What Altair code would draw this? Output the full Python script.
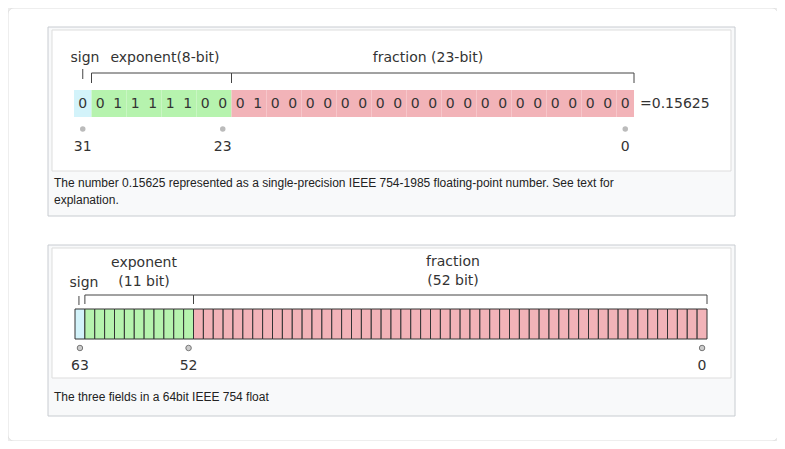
import altair as alt
import pandas as pd

# bit patterns
bits32 = "0" + "01111100" + "01000000000000000000000"
fields32 = ["sign"] + ["exponent"] * 8 + ["fraction"] * 23
marks32 = [31, 23, 0]
marks64 = [63, 52, 0]
fields64 = ["sign"] + ["exponent"] * 11 + ["fraction"] * 52
caption1a = "The number 0.15625 represented as a single-precision IEEE 754-1985 floating-point number. See text for"
caption1b = "explanation."
caption2 = "The three fields in a 64bit IEEE 754 float"

O = 8  # page margin offset
def p(v):
    return v - O

FONT = "DejaVu Sans"
CAP = "Liberation Sans"

top = pd.DataFrame({"bit": list(range(31, -1, -1)), "field": fields32, "val": list(bits32)})
top["hi"] = top["bit"] + 1
top["mid"] = top["bit"] + 0.5
bot = pd.DataFrame({"bit": list(range(63, -1, -1)), "field": fields64})
bot["hi"] = bot["bit"] + 1
bot["mid"] = bot["bit"] + 0.5

col = alt.Scale(domain=["sign", "exponent", "fraction"], range=["#d3f3fa", "#b6f3ae", "#f2b3b8"], )
xt = alt.Scale(domain=[32, 0], range=[p(74), p(634)])
xb = alt.Scale(domain=[64, 0], range=[p(75), p(707)])

def X(f, s):
    return alt.X(f, scale=s, axis=None)

def box(x0, y0, x1, y1, fill, stroke, r=0):
    return alt.Chart(pd.DataFrame({"a": [0]})).mark_rect(
        fill=fill, stroke=stroke, strokeWidth=1, cornerRadius=r
    ).encode(x=alt.value(p(x0)), x2=alt.value(p(x1)), y=alt.value(p(y0)), y2=alt.value(p(y1)))

def label(txt, x, y, size=14, font=FONT, align="center", color="#333"):
    return alt.Chart(pd.DataFrame({"t": [txt]})).mark_text(
        font=font, fontSize=size, align=align, baseline="middle", color=color
    ).encode(x=alt.value(p(x)), y=alt.value(p(y)), text="t:N")

layers = [
    box(8, 8, 778, 441, "#ffffff", "#dddddd", 6),
    box(48, 27, 735, 216, "#f8f9fa", "#c8ccd1"),
    box(52, 30, 731, 171, "#ffffff", "#dddddd"),
    box(48, 245, 735, 416, "#f8f9fa", "#c8ccd1"),
    box(52, 248, 731, 378, "#ffffff", "#dddddd"),
]

# top panel cells and digits
layers.append(alt.Chart(top).mark_rect().encode(
    x=X("hi:Q", xt), x2="bit:Q", y=alt.value(p(90)), y2=alt.value(p(117)),
    color=alt.Color("field:N", scale=col, legend=None)))
layers.append(alt.Chart(top).mark_text(font=FONT, fontSize=14, color="#333").encode(
    x=X("mid:Q", xt), y=alt.value(p(104)), text="val:N"))
m32 = pd.DataFrame({"bit": marks32})
m32["mid"] = m32["bit"] + 0.5
layers.append(alt.Chart(m32).mark_circle(size=30, color="#bbbbbb", opacity=1).encode(
    x=X("mid:Q", xt), y=alt.value(p(129))))
layers.append(alt.Chart(m32).mark_text(font=FONT, fontSize=14, color="#333").encode(
    x=X("mid:Q", xt), y=alt.value(p(147)), text="bit:N"))
br32 = pd.DataFrame({"s": [31, 23], "e": [23, 0]})
layers.append(alt.Chart(br32).mark_rule(color="#444").encode(
    x=X("s:Q", xt), x2="e:Q", y=alt.value(p(73))))
tk32 = pd.DataFrame({"x": [31, 23, 23, 0]})
layers.append(alt.Chart(tk32).mark_rule(color="#444").encode(
    x=X("x:Q", xt), y=alt.value(p(73)), y2=alt.value(p(83))))
layers.append(alt.Chart(pd.DataFrame({"x": [31.5]})).mark_rule(color="#444").encode(
    x=X("x:Q", xt), y=alt.value(p(69)), y2=alt.value(p(79))))
layers += [
    label("sign", 85, 58), label("exponent(8-bit)", 165, 58),
    label("fraction (23-bit)", 428, 58), label("=0.15625", 640, 104, align="left"),
    label(caption1a, 54, 183, 12, CAP, "left", "#222"),
    label(caption1b, 54, 200, 12, CAP, "left", "#222"),
]

# bottom panel
layers.append(alt.Chart(bot).mark_rect(stroke="#333", strokeWidth=1).encode(
    x=X("hi:Q", xb), x2="bit:Q", y=alt.value(p(309)), y2=alt.value(p(339)),
    color=alt.Color("field:N", scale=col, legend=None)))
m64 = pd.DataFrame({"bit": marks64})
m64["mid"] = m64["bit"] + 0.5
layers.append(alt.Chart(m64).mark_point(size=30, filled=True, fill="#cccccc", stroke="#777", strokeWidth=1, opacity=1).encode(
    x=X("mid:Q", xb), y=alt.value(p(348))))
layers.append(alt.Chart(m64).mark_text(font=FONT, fontSize=14, color="#333").encode(
    x=X("mid:Q", xb), y=alt.value(p(366)), text="bit:N"))
br64 = pd.DataFrame({"s": [63, 52], "e": [52, 0]})
layers.append(alt.Chart(br64).mark_rule(color="#444").encode(
    x=X("s:Q", xb), x2="e:Q", y=alt.value(p(295))))
tk64 = pd.DataFrame({"x": [63, 52, 52, 0]})
layers.append(alt.Chart(tk64).mark_rule(color="#444").encode(
    x=X("x:Q", xb), y=alt.value(p(295)), y2=alt.value(p(304))))
layers.append(alt.Chart(pd.DataFrame({"x": [63.6]})).mark_rule(color="#444").encode(
    x=X("x:Q", xb), y=alt.value(p(296)), y2=alt.value(p(305))))
layers += [
    label("sign", 84, 283), label("exponent", 144, 263), label("(11 bit)", 144, 282),
    label("fraction", 453, 262), label("(52 bit)", 453, 281),
    label(caption2, 54, 397, 12, CAP, "left", "#222"),
]

chart = alt.layer(*layers).resolve_scale(x="independent").properties(
    width=769, height=433, autosize=alt.AutoSizeParams(type="none"), padding=0,
    background="#ececec",
).configure_view(stroke=None)

chart.save("out.html", embed_options={"renderer": "svg", "actions": False})
